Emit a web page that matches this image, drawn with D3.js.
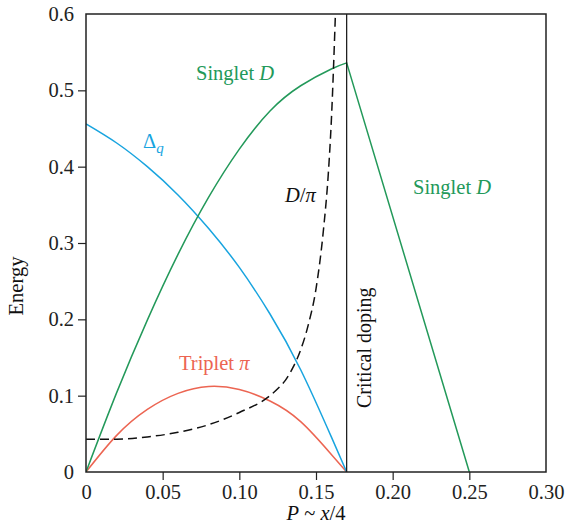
<!DOCTYPE html>
<html>
<head>
<meta charset="utf-8">
<script src="https://cdn.jsdelivr.net/npm/d3@7"></script>
<style>
  body { margin: 0; background: #fff; }
  text { font-family: "Liberation Serif", "Times New Roman", serif; }
</style>
</head>
<body>
<div class="chart"></div>
<script>
// data
var xTicks = [0, 0.05, 0.10, 0.15, 0.20, 0.25, 0.30];
var yTicks = [0, 0.1, 0.2, 0.3, 0.4, 0.5, 0.6];
var criticalDoping = 0.17;

// singlet D rises to the critical doping, then falls straight to 0.25
var singletRise = [[0, 0], [0.02, 0.104], [0.04, 0.199], [0.06, 0.285], [0.08, 0.360],
  [0.10, 0.423], [0.12, 0.473], [0.14, 0.506], [0.16, 0.528], [0.17, 0.536]];
var singletFall = [[0.17, 0.536], [0.25, 0]];
var deltaQ = [[0, 0.456], [0.02, 0.431], [0.04, 0.400], [0.06, 0.363], [0.08, 0.319],
  [0.10, 0.268], [0.12, 0.207], [0.14, 0.134], [0.16, 0.046], [0.17, 0]];
var tripletPi = [[0, 0], [0.02, 0.048], [0.04, 0.082], [0.06, 0.103], [0.08, 0.112],
  [0.10, 0.108], [0.12, 0.093], [0.14, 0.066], [0.16, 0.023], [0.17, 0]];
var dOverPi = [[0, 0.043], [0.02, 0.043], [0.04, 0.046], [0.06, 0.052], [0.08, 0.062],
  [0.10, 0.078], [0.12, 0.100], [0.125, 0.109], [0.13, 0.120], [0.135, 0.137],
  [0.14, 0.160], [0.145, 0.193], [0.15, 0.240], [0.155, 0.32], [0.158, 0.39],
  [0.16, 0.46], [0.163, 0.62]];

var margin = { top: 14, right: 20, bottom: 58, left: 86 };
var width = 566 - margin.left - margin.right;
var height = 530 - margin.top - margin.bottom;

var green = '#23995a', blue = '#18a4df', red = '#ec6552';
var fontSize = 20.5;

var svg = d3.select('.chart')
  .append('svg')
    .attr('width', width + margin.left + margin.right)
    .attr('height', height + margin.top + margin.bottom)
  .append('g')
    .attr('transform', `translate(${margin.left}, ${margin.top})`);

var xScale = d3.scaleLinear().domain([0, 0.30]).range([0, width]);
var yScale = d3.scaleLinear().domain([0, 0.6]).range([height, 0]);

svg.append('clipPath').attr('id', 'plot')
  .append('rect').attr('width', width).attr('height', height);

// axes
var fmtX = d => d === 0 ? '0' : d3.format('.2f')(d);
var fmtY = d => d === 0 ? '0' : d3.format('.1f')(d);

var xAxis = d3.axisBottom(xScale).tickValues(xTicks).tickFormat(fmtX)
  .tickSize(8).tickPadding(4);
var yAxis = d3.axisLeft(yScale).tickValues(yTicks).tickFormat(fmtY)
  .tickSize(8).tickPadding(4);

var gx = svg.append('g').attr('transform', `translate(0, ${height})`).call(xAxis);
var gy = svg.append('g').call(yAxis);

[gx, gy].forEach(g => {
  g.attr('font-family', null);
  g.select('.domain').remove();
  g.selectAll('.tick line').attr('stroke', '#222').attr('stroke-width', 1.2)
    .filter((d, i, n) => i === 0 || i === n.length - 1).remove();
  g.selectAll('.tick text')
    .attr('font-size', fontSize).attr('fill', '#222');
});

// lines
var smooth = d3.line()
  .x(d => xScale(d[0]))
  .y(d => yScale(d[1]))
  .curve(d3.curveNatural);
var monotone = d3.line()
  .x(d => xScale(d[0]))
  .y(d => yScale(d[1]))
  .curve(d3.curveMonotoneX);
var straight = d3.line()
  .x(d => xScale(d[0]))
  .y(d => yScale(d[1]));

var series = [
  { d: smooth(tripletPi), color: red },
  { d: smooth(deltaQ), color: blue },
  { d: smooth(singletRise) + straight(singletFall).replace('M', 'L'), color: green },
  { d: monotone(dOverPi), color: '#111', dash: '9,5' }
];

svg.selectAll('.series')
  .data(series)
  .enter()
  .append('path')
    .attr('class', 'series')
    .attr('clip-path', 'url(#plot)')
    .attr('d', s => s.d)
    .attr('fill', 'none')
    .attr('stroke', s => s.color)
    .attr('stroke-width', 1.5)
    .attr('stroke-dasharray', s => s.dash || null);

// critical doping
svg.append('line')
  .attr('x1', xScale(criticalDoping)).attr('x2', xScale(criticalDoping))
  .attr('y1', 0).attr('y2', height)
  .attr('stroke', '#111').attr('stroke-width', 1.2);

// frame
svg.append('rect')
  .attr('width', width).attr('height', height)
  .attr('fill', 'none').attr('stroke', '#222').attr('stroke-width', 1.5);

// labels
function label(x, y, color, parts) {
  var t = svg.append('text')
    .attr('x', x).attr('y', y)
    .attr('fill', color).attr('font-size', fontSize);
  parts.forEach(p => {
    var s = t.append('tspan').text(p[0]);
    if (p[1]) s.attr('font-style', 'italic');
  });
  return t;
}

label(110, 66, green, [['Singlet '], ['D', 1]]);
label(327, 180, green, [['Singlet '], ['D', 1]]);
label(93, 356, red, [['Triplet '], ['π', 1]]);
label(199, 188, '#111', [['D', 1], ['/'], ['π', 1]]);

var dq = label(57, 134, blue, [['Δ']]);
dq.append('tspan').text('q').attr('font-style', 'italic')
  .attr('font-size', 15).attr('dy', 5);

svg.append('text')
  .attr('transform', `translate(${xScale(criticalDoping) + 24}, ${height - 64}) rotate(-90)`)
  .attr('font-size', 20).attr('fill', '#111')
  .text('Critical doping');

svg.append('text')
  .attr('transform', `translate(${-63}, ${272}) rotate(-90)`)
  .attr('text-anchor', 'middle')
  .attr('font-size', fontSize).attr('fill', '#111')
  .text('Energy');

var xl = svg.append('text')
  .attr('x', width / 2).attr('y', height + 48)
  .attr('text-anchor', 'middle')
  .attr('font-size', fontSize).attr('fill', '#111');
xl.append('tspan').text('P').attr('font-style', 'italic');
xl.append('tspan').text(' ~ ');
xl.append('tspan').text('x').attr('font-style', 'italic');
xl.append('tspan').text('/4');
</script>
</body>
</html>
